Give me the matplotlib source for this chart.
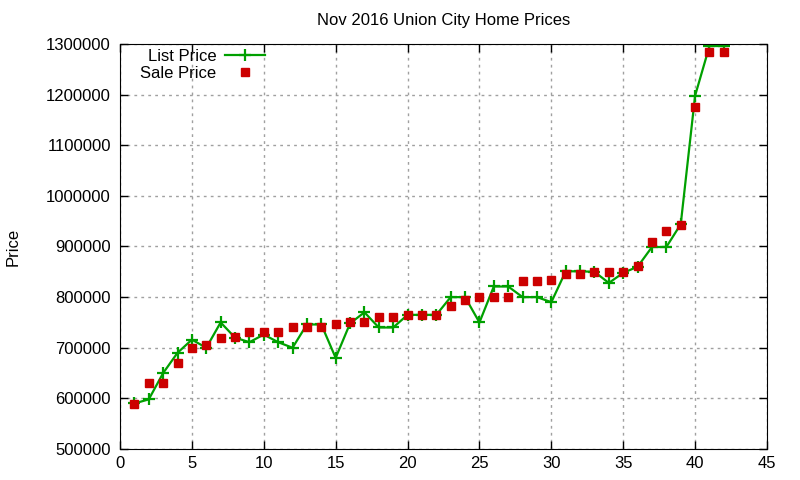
import numpy as np
import matplotlib
matplotlib.use('Agg')
import matplotlib.pyplot as plt

plt.rcParams['font.family'] = ['Liberation Sans', 'DejaVu Sans']

idx = list(range(1, 43))
list_price = [590000, 598000, 650000, 690000, 716000, 700000, 750000, 720000, 711000, 726000,
              711000, 700000, 746000, 746000, 680000, 748000, 770000, 740000, 740000, 765000,
              765000, 765000, 800000, 800000, 750000, 821000, 821000, 800000, 800000, 790000,
              851000, 851000, 850000, 828000, 848000, 860000, 899000, 899000, 944000, 1198000,
              1296000, 1296000]
sale_price = [589000, 630000, 630000, 669000, 700000, 706000, 720000, 722000, 731000, 731000,
              731000, 741000, 741000, 741000, 746000, 751000, 751000, 760000, 760000, 765000,
              765000, 765000, 782000, 794000, 801000, 801000, 801000, 831000, 831000, 834000,
              845000, 845000, 850000, 850000, 850000, 861000, 908000, 931000, 943000, 1175000,
              1285000, 1285000]

fig = plt.figure(figsize=(8, 4.8), dpi=100)
ax = fig.add_axes([120/800, 1 - 449/480, 647/800, 405/480])

ax.plot(idx, list_price, color='#00a000', lw=1.6, marker='+', ms=9, mew=1.6, label='List Price')
ax.plot(idx, sale_price, ls='none', color='#cc0000', marker='s', ms=6, label='Sale Price')

ax.set_xlim(0, 45)
ax.set_ylim(500000, 1300000)
ax.set_xticks(range(0, 46, 5))
ax.set_yticks(range(500000, 1300001, 100000))
ax.ticklabel_format(axis='y', style='plain', useOffset=False)
ax.tick_params(direction='in', top=True, right=True, labelsize=12, length=6, width=1)
ax.tick_params(axis='y', pad=6.5)
ax.tick_params(axis='x', pad=5)
ax.grid(True, ls=(0, (2, 3)), color='#a0a0a0', lw=1)
ax.set_axisbelow(True)

ax.set_title('Nov 2016 Union City Home Prices', fontsize=12, pad=14)
ax.set_ylabel('Price', fontsize=12, labelpad=18)

ax.legend(loc='upper left', bbox_to_anchor=(0.011, 1.02), frameon=False, markerfirst=False,
          fontsize=12, handlelength=2.4, handletextpad=0.5, borderpad=0.3, labelspacing=0.1)

plt.savefig('out.png', dpi=100)
